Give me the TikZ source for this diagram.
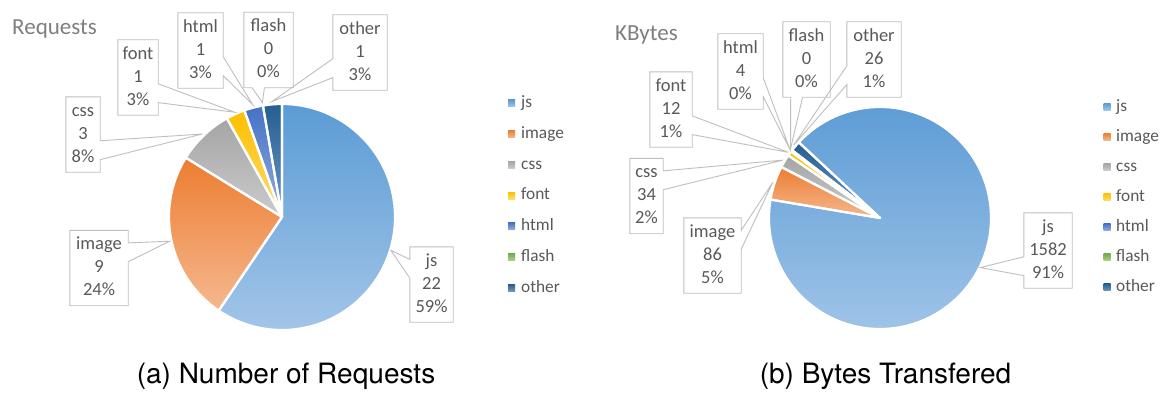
\documentclass[tikz,border=0pt]{standalone}
\usepackage{fontspec}
\setmainfont{Carlito}
\newfontfamily\capfont{TeX Gyre Heros}
\usetikzlibrary{calc}

% slice colours (top / bottom of the vertical gradient)
\definecolor{jsT}{HTML}{5B9BD5}\definecolor{jsB}{HTML}{A2C5E8}
\definecolor{imT}{HTML}{ED7D31}\definecolor{imB}{HTML}{F5B88F}
\definecolor{csT}{HTML}{A5A5A5}\definecolor{csB}{HTML}{CBCBCB}
\definecolor{foT}{HTML}{FFC000}\definecolor{foB}{HTML}{FFDB6E}
\definecolor{htT}{HTML}{4472C4}\definecolor{htB}{HTML}{93AEDE}
\definecolor{flT}{HTML}{70AD47}\definecolor{flB}{HTML}{ABD291}
\definecolor{otT}{HTML}{255E91}\definecolor{otB}{HTML}{6F98C4}
\definecolor{lbltext}{HTML}{595959}
\definecolor{ttltext}{HTML}{7F7F7F}
\definecolor{boxline}{HTML}{BFBFBF}

\tikzset{
  fjs/.style={top color=jsT,bottom color=jsB},
  fim/.style={top color=imT,bottom color=imB},
  fcs/.style={top color=csT,bottom color=csB},
  ffo/.style={top color=foT,bottom color=foB},
  fht/.style={top color=htT,bottom color=htB},
  ffl/.style={top color=flT,bottom color=flB},
  fot/.style={top color=otT,bottom color=otB},
  sliceedge/.style={draw=white,line width=2.2pt,line join=round},
  lbl/.style={rectangle,inner sep=0pt,minimum height=75pt,align=center,
    text=lbltext,font=\fontsize{18.5}{23}\selectfont},
  callout/.style={draw=boxline,line width=0.9pt,line join=miter},
  mk/.style={rectangle,inner sep=0pt,minimum size=7pt},
  lg/.style={inner sep=0pt,anchor=base west,text=lbltext,font=\fontsize{17.3}{20}\selectfont},
  ttl/.style={inner sep=0pt,anchor=base west,text=ttltext,font=\fontsize{23}{27}\selectfont},
  captext/.style={inner sep=0pt,anchor=base,text=black,font=\capfont\fontsize{28}{32}\selectfont},
}

% wedge of a pie: centre, radius, start angle, end angle, style
\newcommand\wedgefill[5]{\fill[#5] (#1) -- ($(#1)+(#3:#2)$) arc[start angle=#3,end angle=#4,radius=#2] -- cycle;}
\newcommand\wedgeedge[4]{\draw[sliceedge] (#1) -- ($(#1)+(#3:#2)$) arc[start angle=#3,end angle=#4,radius=#2] -- cycle;}

% callout outlines: box node, pointer tip, pointer base fractions along the edge
\newcommand\callR[4]{\draw[callout] (#1.north west) -- (#1.north east)
  -- ($(#1.north east)!#3!(#1.south east)$) -- (#2)
  -- ($(#1.north east)!#4!(#1.south east)$) -- (#1.south east) -- (#1.south west) -- cycle;}
\newcommand\callL[4]{\draw[callout] (#1.north east) -- (#1.north west)
  -- ($(#1.north west)!#3!(#1.south west)$) -- (#2)
  -- ($(#1.north west)!#4!(#1.south west)$) -- (#1.south west) -- (#1.south east) -- cycle;}
\newcommand\callB[4]{\draw[callout] (#1.south west) -- (#1.north west) -- (#1.north east) -- (#1.south east)
  -- ($(#1.south west)!#4!(#1.south east)$) -- (#2)
  -- ($(#1.south west)!#3!(#1.south east)$) -- cycle;}

\begin{document}
\begin{tikzpicture}[x=1pt,y=1pt]
\fill[white] (0,0) rectangle (1165,392);
\useasboundingbox (0,0) rectangle (1165,392);

% ---------------- Requests pie ----------------
\coordinate (c1) at (282,175);
\wedgefill{c1}{113}{90}{-124.054}{fjs}
\wedgefill{c1}{113}{-124.054}{-211.622}{fim}
\wedgefill{c1}{113}{-211.622}{-240.811}{fcs}
\wedgefill{c1}{113}{-240.811}{-250.541}{ffo}
\wedgefill{c1}{113}{-250.541}{-260.270}{fht}
\wedgefill{c1}{113}{-260.270}{-270}{fot}
\wedgeedge{c1}{113}{90}{-124.054}
\wedgeedge{c1}{113}{-124.054}{-211.622}
\wedgeedge{c1}{113}{-211.622}{-240.811}
\wedgeedge{c1}{113}{-240.811}{-250.541}
\wedgeedge{c1}{113}{-250.541}{-260.270}
\wedgeedge{c1}{113}{-260.270}{-270}

\coordinate (p1js) at ($(c1)+(-17.03:114)$);
\coordinate (p1im) at ($(c1)+(-167.84:115)$);
\coordinate (p1cs) at ($(c1)+(133.78:115)$);
\coordinate (p1fo) at ($(c1)+(114.32:115)$);
\coordinate (p1ht) at ($(c1)+(104.59:116)$);
\coordinate (p1fl) at ($(c1)+(99.73:116)$);
\coordinate (p1ot) at ($(c1)+(94.86:116)$);

\node[lbl,minimum width=43pt] (l1js) at (431.5,107.5) {\strut js\\\strut 22\\\strut 59\%};
\node[lbl,minimum width=58pt] (l1im) at (99,124) {\strut image\\\strut 9\\\strut 24\%};
\node[lbl,minimum width=34pt] (l1cs) at (83,257.5) {\strut css\\\strut 3\\\strut 8\%};
\node[lbl,minimum width=40pt] (l1fo) at (138,314.5) {\strut font\\\strut 1\\\strut 3\%};
\node[lbl,minimum width=45pt] (l1ht) at (200.5,341.5) {\strut html\\\strut 1\\\strut 3\%};
\node[lbl,minimum width=49pt] (l1fl) at (268.5,342) {\strut flash\\\strut 0\\\strut 0\%};
\node[lbl,minimum width=54pt] (l1ot) at (360,339.5) {\strut other\\\strut 1\\\strut 3\%};

\callL{l1js}{p1js}{0.1667}{0.4167}
\callR{l1im}{p1im}{0.1667}{0.4167}
\callR{l1cs}{p1cs}{0.5833}{0.8333}
\callR{l1fo}{p1fo}{0.5833}{0.8333}
\callR{l1ht}{p1ht}{0.5833}{0.8333}
\callB{l1fl}{p1fl}{0.1667}{0.4167}
\callL{l1ot}{p1ot}{0.5833}{0.8333}

\node[ttl] (t1) at (12,357) {Requests};

% legend
\node[mk,fjs] (k1a) at (511.5,288.7) {};
\node[mk,fim] (k1b) at (511.5,258.0) {};
\node[mk,fcs] (k1c) at (511.5,227.3) {};
\node[mk,ffo] (k1d) at (511.5,196.5) {};
\node[mk,fht] (k1e) at (511.5,165.8) {};
\node[mk,ffl] (k1f) at (511.5,135.0) {};
\node[mk,fot] (k1g) at (511.5,104.3) {};
\node[lg] (k1at) at ($(k1a.center)+(9.5,-4.3)$) {js};
\node[lg] (k1bt) at ($(k1b.center)+(9.5,-4.3)$) {image};
\node[lg] (k1ct) at ($(k1c.center)+(9.5,-4.3)$) {css};
\node[lg] (k1dt) at ($(k1d.center)+(9.5,-4.3)$) {font};
\node[lg] (k1et) at ($(k1e.center)+(9.5,-4.3)$) {html};
\node[lg] (k1ft) at ($(k1f.center)+(9.5,-4.3)$) {flash};
\node[lg] (k1gt) at ($(k1g.center)+(9.5,-4.3)$) {other};

\node[captext] (cap1) at (286,9) {(a) Number of Requests};

% ---------------- KBytes pie ----------------
\coordinate (c2) at (880,174);
\wedgefill{c2}{111}{137}{-189.56}{fjs}
\wedgefill{c2}{111}{-189.56}{-207.31}{fim}
\wedgefill{c2}{111}{-207.31}{-214.33}{fcs}
\wedgefill{c2}{111}{-214.33}{-216.81}{ffo}
\wedgefill{c2}{111}{-216.81}{-217.63}{fht}
\wedgefill{c2}{111}{-217.63}{-223}{fot}
\wedgeedge{c2}{111}{137}{-189.56}
\wedgeedge{c2}{111}{-189.56}{-207.31}
\wedgeedge{c2}{111}{-207.31}{-214.33}
\wedgeedge{c2}{111}{-214.33}{-216.81}
\wedgeedge{c2}{111}{-216.81}{-217.63}
\wedgeedge{c2}{111}{-217.63}{-223}

\coordinate (p2js) at ($(c2)+(-26.28:112)$);
\coordinate (p2im) at ($(c2)+(161.57:113)$);
\coordinate (p2cs) at ($(c2)+(149.18:113)$);
\coordinate (p2fo) at ($(c2)+(144.43:113)$);
\coordinate (p2ht) at ($(c2)+(142.78:113)$);
\coordinate (p2fl) at ($(c2)+(142.37:113)$);
\coordinate (p2ot) at ($(c2)+(139.69:113)$);

\node[lbl,minimum width=48pt] (l2js) at (1048,141.5) {\strut js\\\strut 1582\\\strut 91\%};
\node[lbl,minimum width=57pt] (l2im) at (712.5,136.5) {\strut image\\\strut 86\\\strut 5\%};
\node[lbl,minimum width=33pt] (l2cs) at (646.5,196) {\strut css\\\strut 34\\\strut 2\%};
\node[lbl,minimum width=42pt] (l2fo) at (671,282.5) {\strut font\\\strut 12\\\strut 1\%};
\node[lbl,minimum width=45pt] (l2ht) at (740.5,320.5) {\strut html\\\strut 4\\\strut 0\%};
\node[lbl,minimum width=47pt] (l2fl) at (806.5,332.5) {\strut flash\\\strut 0\\\strut 0\%};
\node[lbl,minimum width=54pt] (l2ot) at (874,332.5) {\strut other\\\strut 26\\\strut 1\%};

\callL{l2js}{p2js}{0.5833}{0.8333}
\callR{l2im}{p2im}{0.1667}{0.4167}
\callR{l2cs}{p2cs}{0.1667}{0.4167}
\callR{l2fo}{p2fo}{0.5833}{0.8333}
\callR{l2ht}{p2ht}{0.5833}{0.8333}
\callB{l2fl}{p2fl}{0.1667}{0.4167}
\callL{l2ot}{p2ot}{0.5833}{0.8333}

\node[ttl] (t2) at (615,352) {KBytes};

% legend
\node[mk,fjs] (k2a) at (1107,285.3) {};
\node[mk,fim] (k2b) at (1107,255.2) {};
\node[mk,fcs] (k2c) at (1107,225.1) {};
\node[mk,ffo] (k2d) at (1107,195.0) {};
\node[mk,fht] (k2e) at (1107,164.9) {};
\node[mk,ffl] (k2f) at (1107,134.8) {};
\node[mk,fot] (k2g) at (1107,104.7) {};
\node[lg] (k2at) at ($(k2a.center)+(9,-4.3)$) {js};
\node[lg] (k2bt) at ($(k2b.center)+(9,-4.3)$) {image};
\node[lg] (k2ct) at ($(k2c.center)+(9,-4.3)$) {css};
\node[lg] (k2dt) at ($(k2d.center)+(9,-4.3)$) {font};
\node[lg] (k2et) at ($(k2e.center)+(9,-4.3)$) {html};
\node[lg] (k2ft) at ($(k2f.center)+(9,-4.3)$) {flash};
\node[lg] (k2gt) at ($(k2g.center)+(9,-4.3)$) {other};

\node[captext] (cap2) at (885.5,9) {(b) Bytes Transfered};
\end{tikzpicture}
\end{document}
